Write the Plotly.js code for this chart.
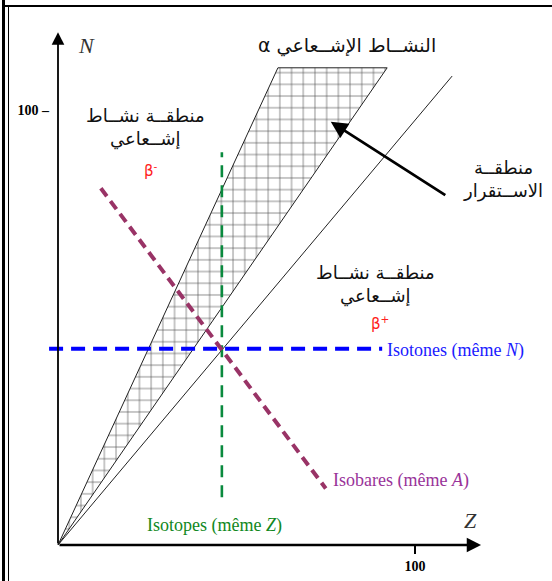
<!DOCTYPE html>
<html>
<head>
<meta charset="utf-8">
<script src="https://cdn.plot.ly/plotly-3.0.1.min.js"></script>
<style>
  html, body { margin: 0; padding: 0; background: #fff; }
  #wrap { position: relative; width: 552px; height: 581px; overflow: hidden; }
  #chart { position: absolute; left: 0; top: 0; width: 552px; height: 581px; }
  .fr { position: absolute; background: #000; }
</style>
</head>
<body>
<div id="wrap">
  <div id="chart"></div>
  <div class="fr" style="left:2px;top:0;width:3px;height:581px;"></div>
  <div class="fr" style="left:8px;top:5px;width:1px;height:576px;"></div>
  <div class="fr" style="left:5px;top:5px;width:547px;height:2px;"></div>
</div>
<script>
// ---- data (Z = protons, N = neutrons) ----
const bandZ = [0, 61.6, 92.2, 0];          // stability band (hatched)
const bandN = [0, 109.7, 109.7, 0];
const diagZ = [0, 110.4];                  // N = Z line
const diagN = [0, 107.8];
const isotoneZ = [-2.5, 90.8];             // same N
const isotoneN = [45.1, 45.1];
const isotopeZ = [45.9, 45.9];             // same Z
const isotopeN = [11.0, 90.3];
const isobarZ = [12.0, 75.0];              // same A
const isobarN = [82.0, 13.0];
const stabArrowTail = [108.9, 80.2];
const stabArrowHead = [76.4, 97.3];
const axisEndZ = 118.5;
const axisEndN = 117.9;
const tickZ = [100], tickZText = ['100'];
const tickN = [100], tickNText = ['100 \u2013'];

// pixel helpers for text placement only
const zx = px => (px - 58) / 3.57;
const ny = py => (545 - py) / 4.35;

const ar = 'DejaVu Sans';
const serif = 'Liberation Serif, Times New Roman, serif';

const traces = [
  { x: bandZ, y: bandN, mode: 'lines', fill: 'toself', fillcolor: 'white',
    fillpattern: { shape: '+', size: 11.7, solidity: 0.1, fgcolor: '#222', bgcolor: 'white', fgopacity: 0.85 },
    line: { color: '#222', width: 1 }, hoverinfo: 'skip' },
  { x: diagZ, y: diagN, mode: 'lines', line: { color: '#222', width: 1 }, hoverinfo: 'skip' },
  { x: isotoneZ, y: isotoneN, mode: 'lines', line: { color: '#0000ff', width: 4, dash: '14px,8px' }, hoverinfo: 'skip' },
  { x: isotopeZ, y: isotopeN, mode: 'lines', line: { color: '#0a8a3e', width: 2.6, dash: '12px,8px' }, hoverinfo: 'skip' },
  { x: isobarZ, y: isobarN, mode: 'lines', line: { color: '#993366', width: 4, dash: '10px,6px' }, hoverinfo: 'skip' }
];

const ann = [
  // axes arrows
  { x: axisEndZ, y: 0, ax: 0, ay: 0, xref: 'x', yref: 'y', axref: 'x', ayref: 'y', text: '',
    showarrow: true, arrowhead: 2, arrowsize: 1.1, arrowwidth: 2.6, arrowcolor: '#000' },
  { x: 0, y: axisEndN, ax: 0, ay: 0, xref: 'x', yref: 'y', axref: 'x', ayref: 'y', text: '',
    showarrow: true, arrowhead: 2, arrowsize: 1.4, arrowwidth: 1.8, arrowcolor: '#000' },
  // stability arrow
  { x: stabArrowHead[0], y: stabArrowHead[1], ax: stabArrowTail[0], ay: stabArrowTail[1],
    xref: 'x', yref: 'y', axref: 'x', ayref: 'y', text: '',
    showarrow: true, arrowhead: 2, arrowsize: 1.2, arrowwidth: 2.8, arrowcolor: '#000' },
  // axis titles
  { x: zx(86), y: ny(45), text: '<i>N</i>', showarrow: false, font: { family: serif, size: 22, color: '#333' } },
  { x: zx(470), y: ny(520), text: '<i>Z</i>', showarrow: false, font: { family: serif, size: 22, color: '#333' } },
  // Arabic labels
  { x: zx(347), y: ny(45), text: 'α النشــاط الإشــعاعي', showarrow: false,
    font: { family: ar, size: 19, color: '#111' } },
  { x: zx(145), y: ny(127), text: 'منطقــة نشــاط<br>إشــعاعي', showarrow: false,
    font: { family: ar, size: 18, color: '#111' } },
  { x: zx(151), y: ny(170), text: 'β<sup>-</sup>', showarrow: false,
    font: { family: ar, size: 15, color: '#ff2020' } },
  { x: zx(503), y: ny(179), text: 'منطقــة<br>الاســتقرار', showarrow: false,
    font: { family: ar, size: 18, color: '#111' } },
  { x: zx(375), y: ny(284), text: 'منطقــة نشــاط<br>إشــعاعي', showarrow: false,
    font: { family: ar, size: 18, color: '#111' } },
  { x: zx(380), y: ny(323), text: 'β<sup>+</sup>', showarrow: false,
    font: { family: ar, size: 15, color: '#ff2020' } },
  // family labels
  { x: zx(385), y: ny(350), text: 'Isotones (même <i>N</i>)', showarrow: false, xanchor: 'left',
    font: { family: serif, size: 18, color: '#1a1aff' } },
  { x: zx(331), y: ny(480), text: 'Isobares (même <i>A</i>)', showarrow: false, xanchor: 'left',
    font: { family: serif, size: 18, color: '#993399' } },
  { x: zx(214), y: ny(525), text: 'Isotopes (même <i>Z</i>)', showarrow: false,
    font: { family: serif, size: 18, color: '#118822' } }
];

const layout = {
  width: 552, height: 581,
  margin: { l: 40, r: 12, t: 20, b: 36 },
  paper_bgcolor: 'rgba(0,0,0,0)', plot_bgcolor: 'rgba(0,0,0,0)',
  showlegend: false,
  xaxis: { range: [-5.042, 135.01], showgrid: false, zeroline: false, showline: false,
    tickmode: 'array', tickvals: tickZ, ticktext: tickZText, ticks: 'outside', ticklen: 8,
    tickwidth: 1.5, tickcolor: '#000', tickfont: { family: serif, size: 14, weight: 'bold', color: '#000' }, fixedrange: true },
  yaxis: { range: [0, 120.69], showgrid: false, zeroline: false, showline: false,
    anchor: 'free', position: 0.036, tickmode: 'array', tickvals: tickN, ticktext: tickNText,
    ticks: '', ticklabelstandoff: 9, tickfont: { family: serif, size: 14, weight: 'bold', color: '#000' }, fixedrange: true },
  annotations: ann
};

Plotly.newPlot('chart', traces, layout, { staticPlot: true });
</script>
</body>
</html>
